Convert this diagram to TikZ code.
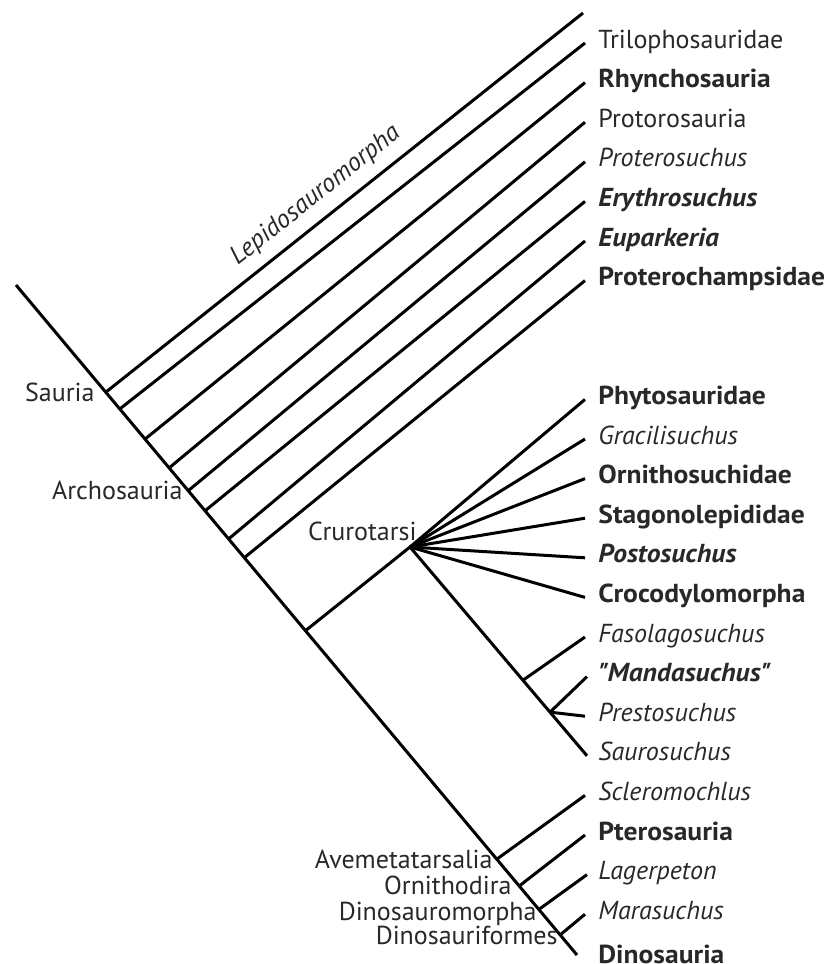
\documentclass[tikz,border=0pt]{standalone}
\usepackage{fontspec}
\setmainfont{PT Sans}[BoldFeatures={FakeStretch=1.06}, BoldItalicFeatures={FakeStretch=1.06}]
\usetikzlibrary{calc, positioning}
\definecolor{cText}{RGB}{40,40,40}
\newcommand{\bi}[1]{\textbf{\textit{#1}}}

\begin{document}
\begin{tikzpicture}[x=0.5pt, y=-0.5pt,
    branch/.style={line width=1.5pt},
    taxon/.style={anchor=mid west, inner sep=0pt, text=cText, font=\fontsize{13}{15}\selectfont},
    clade/.style={anchor=mid east, inner sep=0pt, text=cText, font=\fontsize{13}{15}\selectfont}]
  \useasboundingbox (0,0) rectangle (826,964);

  % main stem
  \coordinate (root) at (16,285);
  \coordinate (dino) at (577,955);
  \draw[branch] (root) -- (dino);

  \coordinate (sauria)   at ($(root)!0.160!(dino)$);
  \coordinate (n2)       at ($(root)!0.185!(dino)$);
  \coordinate (n3)       at ($(root)!0.230!(dino)$);
  \coordinate (n4)       at ($(root)!0.273!(dino)$);
  \coordinate (archo)    at ($(root)!0.307!(dino)$);
  \coordinate (n6)       at ($(root)!0.337!(dino)$);
  \coordinate (n7)       at ($(root)!0.379!(dino)$);
  \coordinate (n8)       at ($(root)!0.407!(dino)$);
  \coordinate (crurBase) at ($(root)!0.516!(dino)$);
  \coordinate (avem)     at ($(root)!0.857!(dino)$);
  \coordinate (ornith)   at ($(root)!0.897!(dino)$);
  \coordinate (dmorph)   at ($(root)!0.932!(dino)$);
  \coordinate (dform)    at ($(root)!0.970!(dino)$);
  \coordinate (cruro)    at (410,547);

  % tips
  \coordinate (tLepido)  at (583,13);
  \coordinate (tTrilo)   at (585,43.0);
  \coordinate (tRhyn)    at (585,82.6);
  \coordinate (tProtor)  at (585,122.2);
  \coordinate (tProter)  at (585,161.8);
  \coordinate (tEryth)   at (585,201.4);
  \coordinate (tEupark)  at (585,241.0);
  \coordinate (tPchamp)  at (585,280.6);
  \coordinate (tPhyto)   at (585,399.4);
  \coordinate (tGracil)  at (585,439.0);
  \coordinate (tOrnitho) at (585,478.6);
  \coordinate (tStago)   at (585,518.2);
  \coordinate (tPosto)   at (585,557.8);
  \coordinate (tCroco)   at (585,597.4);
  \coordinate (tFasola)  at (585,637.0);
  \coordinate (tManda)   at (587,676.6);
  \coordinate (tPresto)  at (585,716.2);
  \coordinate (tSauro)   at (587,755.8);
  \coordinate (tSclero)  at (585,795.4);
  \coordinate (tPtero)   at (585,835.0);
  \coordinate (tLager)   at (587,874.6);
  \coordinate (tMarasu)  at (585,914.2);

  \coordinate (nFasola)  at ($(cruro)!0.638!(tSauro)$);
  \coordinate (nPresto)  at ($(cruro)!0.791!(tSauro)$);

  % branches
  \draw[branch] (sauria) -- (tLepido)
    node[pos=0.47, sloped, above=3pt, inner sep=2pt, text=cText, font=\fontsize{13}{15}\selectfont\itshape] (lepido) {Lepidosauromorpha};
  \draw[branch] (n2) -- (tTrilo);
  \draw[branch] (n3) -- (tRhyn);
  \draw[branch] (n4) -- (tProtor);
  \draw[branch] (archo) -- (tProter);
  \draw[branch] (n6) -- (tEryth);
  \draw[branch] (n7) -- (tEupark);
  \draw[branch] (n8) -- (tPchamp);
  \draw[branch] (crurBase) -- (cruro);
  \draw[branch] (cruro) -- (tPhyto);
  \draw[branch] (cruro) -- (tGracil);
  \draw[branch] (cruro) -- (tOrnitho);
  \draw[branch] (cruro) -- (tStago);
  \draw[branch] (cruro) -- (tPosto);
  \draw[branch] (cruro) -- (tCroco);
  \draw[branch] (cruro) -- (tSauro);
  \draw[branch] (nFasola) -- (tFasola);
  \draw[branch] (nPresto) -- (tManda);
  \draw[branch] (nPresto) -- (tPresto);
  \draw[branch] (avem) -- (tSclero);
  \draw[branch] (ornith) -- (tPtero);
  \draw[branch] (dmorph) -- (tLager);
  \draw[branch] (dform) -- (tMarasu);

  % taxa
  \node[taxon, right=6.5pt of tTrilo, anchor=mid west]   (trilo)   {Trilophosauridae};
  \node[taxon, right=6.5pt of tRhyn, anchor=mid west]    (rhyn)    {\textbf{Rhynchosauria}};
  \node[taxon, right=6.5pt of tProtor, anchor=mid west]  (protor)  {Protorosauria};
  \node[taxon, right=6.5pt of tProter, anchor=mid west]  (proter)  {\textit{Proterosuchus}};
  \node[taxon, right=6.5pt of tEryth, anchor=mid west]   (eryth)   {\bi{Erythrosuchus}};
  \node[taxon, right=6.5pt of tEupark, anchor=mid west]  (eupark)  {\bi{Euparkeria}};
  \node[taxon, right=6.5pt of tPchamp, anchor=mid west]  (pchamp)  {\textbf{Proterochampsidae}};
  \node[taxon, right=6.5pt of tPhyto, anchor=mid west]   (phyto)   {\textbf{Phytosauridae}};
  \node[taxon, right=6.5pt of tGracil, anchor=mid west]  (gracil)  {\textit{Gracilisuchus}};
  \node[taxon, right=6.5pt of tOrnitho, anchor=mid west] (ornitho) {\textbf{Ornithosuchidae}};
  \node[taxon, right=6.5pt of tStago, anchor=mid west]   (stago)   {\textbf{Stagonolepididae}};
  \node[taxon, right=6.5pt of tPosto, anchor=mid west]   (posto)   {\bi{Postosuchus}};
  \node[taxon, right=6.5pt of tCroco, anchor=mid west]   (croco)   {\textbf{Crocodylomorpha}};
  \node[taxon, right=6.5pt of tFasola, anchor=mid west]  (fasola)  {\textit{Fasolagosuchus}};
  \node[taxon, right=5.5pt of tManda, anchor=mid west]   (manda)   {\bi{\textquotedbl Mandasuchus\textquotedbl}};
  \node[taxon, right=6.5pt of tPresto, anchor=mid west]  (presto)  {\textit{Prestosuchus}};
  \node[taxon, right=5.5pt of tSauro, anchor=mid west]   (sauro)   {\textit{Saurosuchus}};
  \node[taxon, right=6.5pt of tSclero, anchor=mid west]  (sclero)  {\textit{Scleromochlus}};
  \node[taxon, right=6.5pt of tPtero, anchor=mid west]   (ptero)   {\textbf{Pterosauria}};
  \node[taxon, right=5.5pt of tLager, anchor=mid west]   (lager)   {\textit{Lagerpeton}};
  \node[taxon, right=6.5pt of tMarasu, anchor=mid west]  (marasu)  {\textit{Marasuchus}};
  \node[taxon, anchor=mid west] (dinosauria) at (598,958) {\textbf{Dinosauria}};

  % clades
  \node[clade] (lSauria) at (95,396)  {Sauria};
  \node[clade] (lArcho)  at (183,494) {Archosauria};
  \node[clade] (lCruro)  at (417,535) {Crurotarsi};
  \node[clade] (lAvem)   at (493,863) {Avemetatarsalia};
  \node[clade] (lOrnith) at (512,889) {Ornithodira};
  \node[clade] (lDmorph) at (537,915) {Dinosauromorpha};
  \node[clade] (lDform)  at (558,939) {Dinosauriformes};
\end{tikzpicture}
\end{document}
